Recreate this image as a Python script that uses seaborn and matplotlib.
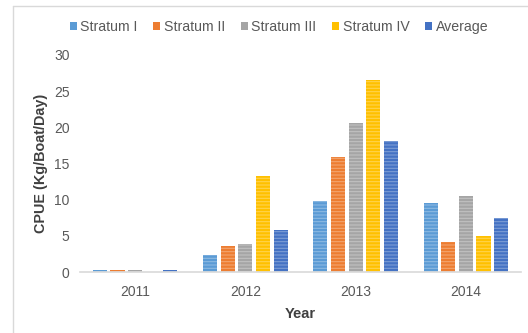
import matplotlib
matplotlib.use("Agg")
import matplotlib.pyplot as plt
from matplotlib.lines import Line2D
from matplotlib.patches import Patch
import seaborn as sns
import pandas as pd

# CPUE per stratum and year
years = ["2011", "2012", "2013", "2014"]
series = ["Stratum I", "Stratum II", "Stratum III", "Stratum IV", "Average"]
stratum_1 = [0.3, 2.4, 9.8, 9.6]
stratum_2 = [0.3, 3.6, 15.9, 4.2]
stratum_3 = [0.3, 3.9, 20.6, 10.5]
stratum_4 = [0.0, 13.3, 26.6, 5.0]
average = [0.25, 5.8, 18.1, 7.4]
y_ticks = [0, 5, 10, 15, 20, 25, 30]

colors = ["#5B9BD5", "#ED7D31", "#A5A5A5", "#FFC000", "#4472C4"]

rows = []
for name, vals in zip(series, [stratum_1, stratum_2, stratum_3, stratum_4, average]):
    for yr, v in zip(years, vals):
        rows.append({"Year": yr, "Series": name, "CPUE": v})
df = pd.DataFrame(rows)

sns.set_theme(style="white")
plt.rcParams["font.family"] = ["Liberation Sans", "DejaVu Sans"]
plt.rcParams["hatch.linewidth"] = 0.8

fig = plt.figure(figsize=(5.28, 3.33), dpi=100)
ax = fig.add_axes([80 / 528, 1 - 272 / 333, 441 / 528, 217 / 333])

sns.barplot(data=df, x="Year", y="CPUE", hue="Series", order=years,
            hue_order=series, palette=colors, width=0.8, gap=0.2,
            saturation=1, errorbar=None, legend=False, ax=ax)

for bar in ax.patches:
    bar.set_hatch("-----")
    bar.set_edgecolor((1, 1, 1, 0.3))
    bar.set_linewidth(0)

ax.set_ylim(0, 30)
ax.set_yticks(y_ticks)
ax.set_xlim(-0.5, 3.5)
ax.tick_params(axis="both", length=0, colors="#595959", labelsize=10)
ax.tick_params(axis="y", pad=7.5)
ax.tick_params(axis="x", pad=9)
for s in ["left", "right", "top"]:
    ax.spines[s].set_visible(False)
ax.spines["bottom"].set_color("#D9D9D9")
ax.spines["bottom"].set_linewidth(1.2)

ax.set_xlabel("Year", fontsize=10.5, fontweight="bold", color="#404040", labelpad=6)
ax.set_ylabel("CPUE (Kg/Boat/Day)", fontsize=10.4, fontweight="bold",
              color="#404040", labelpad=4)

handles = [Patch(facecolor=c, edgecolor="none") for c in colors]
fig.legend(handles, series, loc="center", bbox_to_anchor=(279 / 528, 1 - 27 / 333),
           ncol=5, frameon=False, fontsize=10.2, handlelength=0.5, handleheight=0.5,
           handletextpad=0.25, columnspacing=1.1, labelcolor="#595959")

# chart area border
fig.add_artist(Line2D([13 / 528, 13 / 528], [0, 1 - 6 / 333], transform=fig.transFigure,
                      color="#D9D9D9", lw=1))
fig.add_artist(Line2D([13 / 528, 1], [1 - 6 / 333, 1 - 6 / 333], transform=fig.transFigure,
                      color="#D9D9D9", lw=1))

fig.savefig("out.png", dpi=100, facecolor="white")
